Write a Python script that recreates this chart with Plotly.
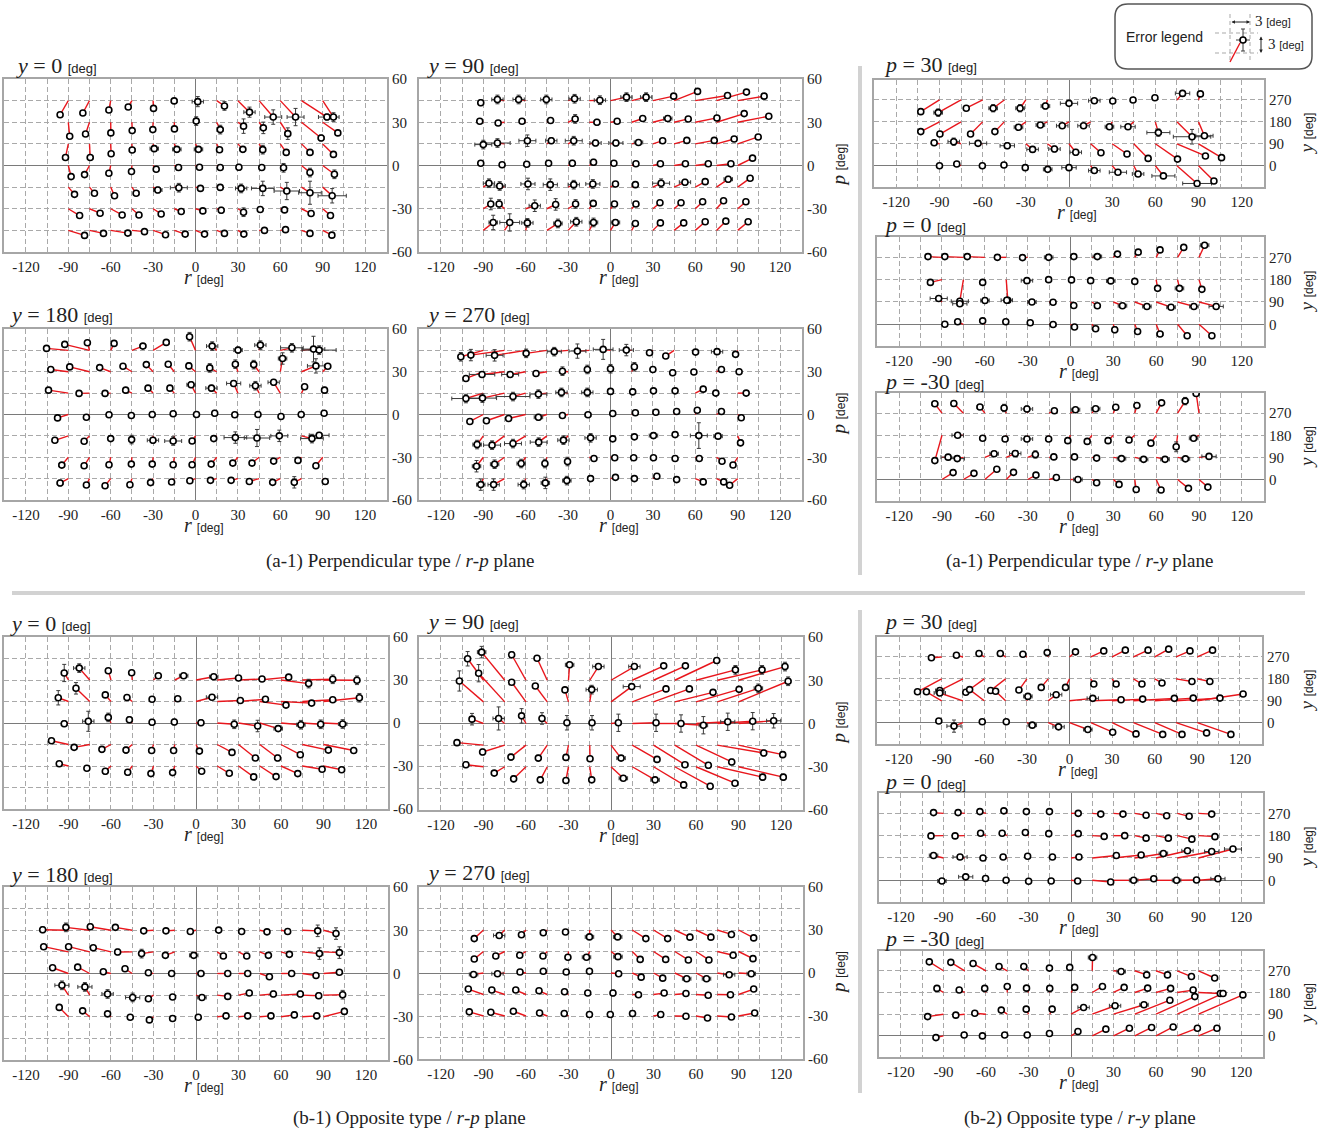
import plotly.graph_objects as go

W, H = 1324, 1133

# ---------------- target grids ----------------
R_GRID = [-90, -75, -60, -45, -30, -15, 0, 15, 30, 45, 60, 75, 90]
P_ROWS_A = [45, 30, 15, 0, -15, -30, -45]
P_ROWS_B = [30, 15, 0, -15, -30]
Y_ROWS = [270, 180, 90, 0]

R_TICKS = [-120, -105, -90, -75, -60, -45, -30, -15, 0, 15, 30, 45, 60, 75, 90, 105, 120]
P_TICKS = [-60, -45, -30, -15, 0, 15, 30, 45, 60]
Y_TICKS = [0, 90, 180, 270]

# ---------------- measured points (r, value[, target r]) per target row ----------------
A_Y0 = [
    [(-95.8, 35.2), (-79.7, 36.4), (-61.3, 38.5), (-47.6, 40.6), (-29.7, 39.6), (-15.1, 44.8), (1.6, 44.3), (20.5, 41.3), (38.2, 37.0), (55.0, 33.6), (70.8, 33.6), (93.0, 33.6), (97.6, 33.6)],
    [(-89.0, 20.3), (-77.8, 21.9), (-59.9, 22.6), (-44.8, 24.2), (-30.2, 24.9), (-14.9, 25.4), (0.5, 30.8), (17.5, 24.9), (34.0, 27.3), (48.0, 26.1), (65.3, 22.1), (88.9, 19.1), (100.7, 22.6)],
    [(-92.0, 5.6), (-74.5, 5.6), (-59.7, 8.2), (-44.8, 10.7), (-29.2, 11.7), (-13.2, 11.2), (2.1, 11.2), (17.0, 10.9), (33.5, 11.2), (47.6, 11.0), (64.2, 9.1), (81.0, 9.1), (97.6, 7.7)],
    [(-88.0, -7.7), (-78.5, -6.3), (-61.3, -5.4), (-45.3, -4.2), (-27.8, -2.6), (-12.0, -1.4), (2.8, -1.2), (17.5, -1.4), (30.7, -1.2), (46.9, -1.4), (62.3, -1.6), (81.0, -4.9), (98.3, -6.1)],
    [(-85.6, -20.0), (-71.5, -19.3), (-57.3, -21.0), (-42.0, -19.3), (-26.7, -17.0), (-11.8, -15.4), (3.5, -15.9), (17.5, -15.2), (32.3, -15.9), (47.6, -15.9), (64.6, -17.7), (81.0, -18.9), (96.7, -21.0)],
    [(-82.0, -34.7), (-67.5, -33.1), (-51.9, -34.3), (-40.0, -34.3), (-24.3, -33.6), (-10.1, -31.9), (5.2, -31.5), (18.2, -31.0), (34.0, -32.4), (45.8, -30.5), (63.0, -30.8), (81.8, -33.3), (95.5, -34.7)],
    [(-78.5, -48.5), (-65.1, -47.1), (-47.9, -46.9), (-36.1, -45.9), (-21.2, -48.0), (-7.3, -47.6), (6.4, -47.6), (20.5, -47.1), (34.2, -47.6), (48.8, -45.0), (63.7, -44.5), (81.0, -47.1), (96.5, -48.3)],
]
A_Y0_ERR = {(0, 5): (2, 1.5), (0, 6): (4, 3.5), (0, 7): (2, 3), (0, 8): (4, 3.5), (0, 9): (6, 5), (0, 10): (6, 6), (0, 11): (6, 2), (0, 12): (4, 3),
            (1, 6): (1, 3), (1, 7): (2, 3), (1, 8): (1, 5), (1, 9): (1, 4), (1, 10): (2, 4), (1, 11): (2, 2),
            (2, 0): (2, 1), (2, 1): (2, 1), (2, 3): (2, 0), (2, 4): (3, 2), (2, 5): (3, 2), (2, 6): (3, 2), (2, 7): (2, 0), (2, 8): (2, 2), (2, 9): (2, 3), (2, 10): (1, 2), (2, 11): (2, 2),
            (3, 5): (0, 2), (3, 8): (0, 2), (3, 10): (0, 3), (3, 11): (0, 3), (3, 12): (0, 3),
            (4, 0): (1, 1), (4, 3): (2, 0), (4, 4): (3, 2), (4, 5): (6, 3), (4, 8): (4, 3), (4, 9): (8, 5), (4, 10): (9, 6), (4, 11): (8, 8), (4, 12): (10, 5),
            (5, 7): (0, 2), (5, 8): (0, 3), (5, 12): (0, 2), (6, 0): (0, 2)}

A_Y90 = [
    [(-91.8, 43.5), (-80.0, 45.8), (-65.0, 45.8), (-45.4, 45.8), (-25.4, 46.3), (-7.5, 45.3), (11.3, 47.4), (25.2, 47.4), (44.7, 48.1), (61.6, 51.4), (82.8, 48.6), (96.2, 50.9), (108.7, 48.1)],
    [(-92.5, 30.7), (-79.5, 29.5), (-62.6, 30.7), (-42.4, 31.2), (-25.0, 32.3), (-9.6, 30.0), (4.7, 30.7), (22.8, 32.6), (40.5, 32.6), (55.0, 32.3), (75.3, 33.0), (94.6, 36.0), (112.0, 34.2)],
    [(-90.0, 14.5), (-80.0, 15.6), (-58.8, 17.2), (-41.9, 17.2), (-26.0, 17.2), (-10.6, 15.6), (3.8, 15.6), (19.8, 16.0), (36.9, 17.2), (54.0, 17.4), (73.4, 17.4), (87.5, 18.4), (104.5, 19.8)],
    [(-91.8, 1.6), (-76.7, 0.5), (-59.3, 0.9), (-43.8, 1.6), (-27.0, 1.6), (-12.0, 2.3), (2.4, 1.6), (18.0, 1.2), (35.3, 1.2), (53.0, 1.2), (69.2, 1.2), (85.2, 1.2), (100.5, 5.1)],
    [(-86.0, -12.3), (-78.4, -14.2), (-58.4, -12.8), (-42.6, -13.3), (-26.0, -13.3), (-12.5, -12.8), (3.5, -12.8), (17.6, -13.3), (35.8, -12.3), (52.7, -11.6), (67.0, -11.2), (83.3, -9.5), (98.8, -8.8)],
    [(-84.7, -26.7), (-78.8, -26.7), (-53.6, -27.9), (-38.8, -27.0), (-24.7, -26.7), (-12.2, -26.3), (2.8, -26.7), (18.0, -26.7), (35.0, -25.8), (49.9, -25.8), (65.2, -25.1), (80.0, -24.4), (95.8, -25.1)],
    [(-83.0, -39.5), (-71.3, -39.5), (-58.8, -39.8), (-37.2, -40.2), (-24.2, -39.0), (-12.0, -39.5), (3.5, -39.5), (17.6, -40.2), (35.3, -39.8), (51.8, -39.8), (67.0, -39.0), (81.6, -38.6), (97.4, -39.0)],
]
A_Y90_ERR = {(0, 0): (0, 2), (0, 1): (4, 3), (0, 2): (4, 3), (0, 3): (4, 3), (0, 4): (4, 3), (0, 5): (4, 3), (0, 6): (4, 3), (0, 7): (4, 3),
             (1, 4): (0, 3), (1, 5): (2, 2), (1, 8): (3, 2),
             (2, 0): (6, 3), (2, 1): (9, 3), (2, 2): (6, 4), (2, 3): (4, 2), (2, 4): (6, 3), (2, 5): (4, 2), (2, 6): (5, 2), (2, 7): (3, 1), (2, 8): (2, 0),
             (3, 4): (0, 2), (3, 5): (0, 2),
             (4, 0): (4, 3), (4, 1): (4, 3), (4, 2): (5, 4), (4, 3): (5, 4), (4, 4): (4, 3), (4, 5): (5, 3), (4, 8): (6, 3), (4, 9): (4, 2), (4, 11): (3, 2),
             (5, 0): (0, 4), (5, 1): (0, 3), (5, 2): (4, 4), (5, 3): (0, 4), (5, 4): (0, 3), (5, 5): (0, 2),
             (6, 0): (3, 5), (6, 1): (7, 6), (6, 2): (4, 3), (6, 3): (3, 3), (6, 4): (4, 3), (6, 5): (3, 3), (6, 6): (3, 2)}

A_Y180 = [
    [(-105.4, 46.4), (-92.5, 49.2), (-76.5, 50.4, -75), (-57.6, 49.9, -60), (-37.2, 48.0, -45), (-20.7, 50.6, -30), (-4.2, 54.6, 0), (11.8, 48.0, 15), (30.1, 45.2, 30), (45.9, 48.7, 45), (68.2, 46.8, 60), (83.5, 45.9, 75), (87.5, 45.2, 90)],
    [(-102.4, 31.6), (-89.0, 33.4), (-67.8, 32.9), (-51.3, 33.9), (-34.8, 35.0), (-19.3, 35.3), (-4.7, 34.1), (10.1, 32.7), (28.2, 35.3), (41.2, 35.0), (61.6, 39.3), (85.2, 34.1), (93.6, 33.9)],
    [(-104.0, 17.1), (-82.4, 14.8), (-64.0, 14.8), (-49.4, 17.1), (-33.6, 18.5), (-18.1, 18.5), (-3.1, 20.9), (11.3, 18.5), (27.0, 21.8), (42.4, 20.2), (55.3, 22.6), (77.2, 19.5), (91.3, 17.1)],
    [(-97.6, -2.4), (-77.2, -1.9), (-61.2, -0.2), (-45.4, -0.7), (-30.6, 0.0), (-15.8, 0.5), (0.7, 0.0), (13.6, 0.9), (27.8, -0.2), (44.2, 0.0), (60.5, -1.4), (74.8, 0.0), (91.0, 0.9)],
    [(-99.5, -18.1), (-78.8, -18.8), (-60.0, -16.9), (-45.2, -17.6), (-30.1, -18.1), (-15.8, -18.6), (-2.4, -18.6), (12.9, -16.9), (28.2, -16.2), (43.5, -16.5), (59.3, -15.0), (82.4, -16.9), (87.5, -14.6)],
    [(-94.6, -35.5), (-78.8, -36.0), (-61.2, -35.3), (-45.4, -34.8), (-30.6, -34.8), (-15.8, -35.3), (-2.4, -35.3), (11.1, -34.8), (26.4, -34.1), (40.0, -34.1), (55.3, -32.7), (72.5, -32.2), (85.2, -36.0)],
    [(-95.8, -48.1), (-77.2, -49.5), (-64.0, -50.0), (-46.4, -49.3), (-31.8, -47.8), (-16.9, -47.4), (-4.0, -46.5), (10.6, -46.2), (25.2, -46.2), (38.1, -47.0), (54.6, -47.6), (69.9, -47.6), (91.8, -47.0)],
]
A_Y180_ERR = {(0, 4): (2, 1), (0, 5): (2, 1), (0, 6): (2, 3), (0, 7): (4, 3), (0, 8): (3, 2), (0, 9): (4, 3), (0, 10): (8, 3), (0, 11): (8, 9), (0, 12): (12, 3),
              (1, 6): (0, 2), (1, 7): (0, 3), (1, 8): (2, 3), (1, 9): (2, 3), (1, 10): (3, 4), (1, 11): (6, 5), (1, 12): (2, 0),
              (2, 6): (3, 2), (2, 7): (4, 2), (2, 8): (5, 2), (2, 9): (4, 3), (2, 10): (4, 2), (2, 12): (2, 2),
              (3, 7): (0, 2), (3, 9): (0, 2), (3, 10): (0, 2),
              (4, 3): (0, 3), (4, 4): (4, 2), (4, 5): (6, 3), (4, 7): (0, 1), (4, 8): (8, 4), (4, 9): (9, 6), (4, 10): (6, 4), (4, 11): (8, 3), (4, 12): (7, 2),
              (5, 0): (2, 0), (6, 0): (2, 2), (6, 11): (0, 4)}

A_Y270 = [
    [(-105.9, 40.5), (-98.8, 41.7), (-82.0, 41.5), (-59.7, 42.9), (-39.8, 44.1), (-23.4, 44.5), (-5.2, 45.7), (11.2, 45.2), (27.6, 43.3), (39.1, 41.0), (60.2, 43.8), (75.4, 44.1), (88.5, 42.2)],
    [(-102.3, 25.3), (-90.9, 28.1), (-71.0, 28.1), (-52.7, 28.8), (-34.0, 30.4), (-16.4, 31.6), (0.0, 32.1), (16.9, 33.5), (30.0, 31.6), (44.0, 29.3), (59.0, 29.8), (78.5, 31.6), (91.0, 30.0)],
    [(-102.3, 11.2), (-90.6, 11.5), (-69.0, 12.6), (-51.0, 14.3), (-34.7, 15.5), (-16.4, 15.5), (0.0, 16.2), (15.7, 15.9), (30.4, 16.6), (45.7, 16.6), (65.6, 17.8), (74.5, 15.0), (96.0, 15.0)],
    [(-99.5, -4.9), (-87.8, -4.4), (-72.1, -2.8), (-51.0, -1.9), (-34.0, -0.7), (-15.9, -0.2), (1.6, 0.7), (17.6, 1.2), (32.1, 1.6), (46.8, 2.1), (61.4, 3.0), (78.5, 2.1), (92.5, -2.3)],
    [(-94.4, -21.1), (-83.8, -21.5), (-69.0, -20.4), (-50.8, -19.4), (-33.3, -18.0), (-14.1, -16.4), (1.6, -17.1), (16.9, -15.7), (30.4, -14.8), (45.7, -14.1), (62.5, -14.8), (76.1, -15.2), (92.0, -19.9)],
    [(-94.8, -36.3), (-82.0, -34.9), (-63.2, -34.4), (-46.4, -34.4), (-30.4, -33.0), (-11.7, -30.9), (3.0, -30.4), (16.4, -30.4), (30.4, -30.4), (45.7, -30.9), (62.8, -30.9), (78.9, -32.8), (86.7, -35.4)],
    [(-91.8, -49.2), (-82.7, -49.2), (-61.4, -49.2), (-46.1, -48.0), (-30.9, -46.4), (-14.1, -45.0), (3.5, -44.1), (16.9, -45.0), (32.8, -43.3), (46.8, -45.7), (65.6, -47.3), (80.1, -47.3), (84.3, -49.6)],
]
A_Y270_ERR = {(0, 0): (0, 3), (0, 1): (0, 4), (0, 2): (6, 4), (0, 3): (0, 3), (0, 4): (5, 3), (0, 5): (6, 5), (0, 6): (7, 7), (0, 7): (5, 4), (0, 8): (0, 1), (0, 11): (4, 2),
              (1, 1): (9, 0), (1, 2): (6, 0), (1, 3): (0, 2), (1, 4): (0, 3), (1, 5): (0, 3), (1, 6): (0, 3), (1, 7): (0, 3), (1, 9): (0, 2),
              (2, 0): (10, 3), (2, 1): (10, 3), (2, 2): (12, 3), (2, 3): (6, 3), (2, 4): (4, 3), (2, 5): (4, 3), (2, 6): (2, 2), (2, 7): (0, 2),
              (3, 3): (3, 2), (3, 4): (0, 1), (3, 5): (2, 0),
              (4, 0): (3, 3), (4, 1): (6, 3), (4, 2): (6, 3), (4, 3): (6, 3), (4, 4): (4, 3), (4, 5): (4, 3), (4, 8): (3, 2), (4, 10): (6, 9), (4, 11): (3, 0), (4, 12): (2, 2),
              (5, 0): (3, 4), (5, 1): (3, 3), (5, 2): (3, 3), (5, 3): (0, 3), (5, 4): (0, 3),
              (6, 0): (3, 4), (6, 1): (4, 4), (6, 2): (4, 3), (6, 3): (3, 4), (6, 4): (3, 3), (6, 5): (2, 2)}

A_P30 = [
    [(-103, 222), (-90.9, 218), (-71.4, 236), (-52.7, 236), (-34.0, 236), (-16.4, 245), (0.0, 256), (17.6, 267), (30.4, 266), (44.5, 270), (59.7, 279), (78.9, 297), (91.3, 295)],
    [(-103, 140), (-89.7, 130), (-68.4, 130), (-51.5, 140), (-35.1, 158), (-19.9, 167), (-4.7, 164), (10.1, 164), (28.1, 160), (41.0, 160), (62.1, 136), (85.5, 119), (94.1, 123)],
    [(-93.7, 94.5), (-80.1, 98.6), (-63.2, 91.8), (-42.9, 82), (-25.3, 67), (-10.1, 68.5), (4.7, 55), (22.2, 53.4), (40.3, 48), (55.0, 30), (75.4, 27), (94.8, 40), (106.0, 33)],
    [(-90, 0), (-78, 7), (-60.2, 0), (-45.2, 3), (-30.4, -8), (-14.8, -15), (0, -8), (17.6, -20), (34, -27), (48, -34), (65.6, -42), (89, -73), (100.7, -63)],
]
A_P30_ERR = {(0, 1): (3, 15), (0, 3): (3, 15), (0, 4): (3, 15), (0, 5): (3, 12), (0, 6): (6, 8), (0, 7): (4, 0), (0, 11): (5, 12),
             (1, 4): (3, 8), (1, 5): (3, 0), (1, 6): (4, 0), (1, 7): (4, 8), (1, 8): (3, 8), (1, 9): (5, 8), (1, 10): (8, 15), (1, 11): (13, 30), (1, 12): (6, 10),
             (2, 1): (4, 15), (2, 2): (6, 8), (2, 3): (5, 12), (2, 4): (4, 12), (2, 5): (4, 12), (2, 6): (4, 12), (2, 7): (0, 8), (2, 8): (0, 8),
             (3, 0): (0, 8), (3, 5): (3, 8), (3, 6): (5, 8), (3, 7): (4, 8), (3, 8): (6, 8), (3, 9): (4, 0), (3, 10): (8, 0), (3, 11): (10, 0)}

A_P0 = [
    [(-99.8, 273), (-88, 273), (-72.3, 273), (-51.2, 270), (-33.6, 269), (-15.3, 270), (2.3, 273), (18.8, 273), (32.9, 283), (47.4, 291), (62.7, 300), (79.3, 310), (93.9, 319)],
    [(-98.1, 169), (-77.5, 93), (-61.5, 169), (-43.9, 97), (-30.5, 176), (-15.3, 180), (0.7, 179), (14.1, 176), (28.2, 175), (45, 173), (61, 145), (76.3, 145), (92, 141)],
    [(-92.3, 104), (-77.5, 83), (-59.9, 96), (-44.6, 97), (-27, 90), (-12.2, 89), (2.3, 76), (18.8, 75), (36.4, 75), (53.5, 72), (70.4, 69), (86.4, 72), (102, 72)],
    [(-88, 0), (-79, 10), (-61.5, 14), (-45.3, 10), (-28.2, 6), (-12.2, -1), (2.8, -11), (17.6, -18), (31, -22), (47, -29), (62.7, -39), (81.7, -46), (99, -46)],
]
A_P0_ERR = {(0, 5): (3, 0), (0, 7): (3, 0), (0, 12): (3, 8),
            (1, 1): (6, 10), (1, 4): (4, 0), (1, 5): (2, 0), (1, 7): (0, 8), (1, 8): (3, 0), (1, 10): (0, 8), (1, 11): (3, 10),
            (2, 0): (6, 0), (2, 1): (5, 0), (2, 2): (3, 0), (2, 3): (4, 0), (2, 4): (3, 0), (2, 5): (0, 8), (2, 8): (3, 8), (2, 9): (3, 0), (2, 10): (3, 0), (2, 11): (3, 0), (2, 12): (5, 0),
            (3, 4): (0, 8), (3, 5): (2, 8), (3, 8): (0, 12), (3, 9): (0, 8), (3, 10): (2, 8)}

A_PM30 = [
    [(-95, 308), (-81.7, 309), (-63.4, 295), (-46.5, 291), (-30.5, 287), (-11.3, 280), (3.5, 284), (17.6, 288), (31.7, 294), (46.5, 301), (63.8, 312), (80.3, 319), (88, 350)],
    [(-95, 77), (-79, 180), (-61.5, 168), (-45.8, 165), (-30.5, 165), (-15.3, 165), (-1.9, 158), (11.7, 155), (26.3, 158), (41, 161), (56.3, 148), (74, 133), (86.2, 168)],
    [(-85.7, 91), (-79.3, 85), (-53.5, 105), (-38.7, 106), (-24.6, 102), (-11.7, 92), (2.8, 92), (18.3, 87), (35.7, 85), (51.2, 82), (66.2, 82), (80.5, 84), (97, 94)],
    [(-82.2, 28), (-67.6, 25), (-51.6, 42), (-39.9, 29), (-24.2, 18), (-9.9, 8), (5.2, 0), (18.3, -13), (34, -20), (46, -41), (63.4, -43), (82.6, -36), (96.2, -31)],
]
A_PM30_ERR = {(0, 0): (2, 10), (0, 1): (0, 12), (0, 2): (2, 10), (0, 3): (0, 15), (0, 4): (4, 12), (0, 6): (3, 0), (0, 7): (3, 0), (0, 11): (0, 15), (0, 12): (2, 0),
              (1, 1): (4, 0), (1, 2): (0, 8), (1, 4): (4, 8), (1, 5): (0, 10), (1, 11): (0, 20), (1, 12): (3, 0),
              (2, 0): (5, 0), (2, 1): (5, 12), (2, 2): (3, 10), (2, 3): (4, 10), (2, 4): (0, 15), (2, 5): (0, 10), (2, 7): (0, 8), (2, 8): (3, 0), (2, 9): (3, 0), (2, 10): (3, 0), (2, 11): (3, 0), (2, 12): (5, 0),
              (3, 0): (0, 10), (3, 4): (0, 10), (3, 6): (3, 0)}

B_Y0 = [
    [(-93, 34.9), (-82.4, 38.3), (-61.9, 36.5), (-45.4, 35.1), (-26.6, 33), (-8.7, 33), (12.5, 32.3), (30, 31.4), (46.6, 30.7), (65.4, 32), (79.5, 27.5), (96.5, 30.5), (113.6, 29.8)],
    [(-97.2, 17.6), (-84.7, 24.2), (-64, 19.6), (-48.7, 17.8), (-31, 16.6), (-12.9, 16.9), (11.3, 18), (31.3, 15.7), (49, 16.6), (63.5, 12.5), (81.6, 13.9), (96.5, 16.2), (115.3, 17.6)],
    [(-93, -0.5), (-76, 1.2), (-61.9, 3.9), (-47, 2.3), (-31, 0.5), (-15.3, 0.7), (3.5, 0.2), (27, -0.9), (43.5, -2.1), (58, -3.9), (74, -1.2), (88, -0.9), (103.5, -0.7)],
    [(-102, -12.4), (-86, -17), (-66.4, -18.4), (-49.4, -18.9), (-31.3, -19.2), (-15.8, -19.2), (2.4, -19.6), (25.4, -20.5), (41.9, -24.4), (57.6, -24.4), (73.6, -22.1), (93.4, -18.9), (111.3, -19.2)],
    [(-96.5, -28.4), (-77, -31.6), (-64, -33.7), (-48.2, -34.4), (-31.8, -35.3), (-16.5, -34.6), (4, -33.7), (23.5, -35.1), (40.7, -37.6), (56.5, -37.4), (71.8, -35.3), (89, -32.3), (102.8, -32.6)],
]
B_Y0_ERR = {(0, 0): (0, 6), (0, 1): (4, 3), (0, 5): (3, 0), (0, 6): (3, 0), (0, 10): (0, 3), (0, 11): (0, 3), (0, 12): (0, 3),
            (1, 0): (0, 5), (1, 1): (0, 4), (1, 5): (2, 0), (1, 6): (4, 0), (1, 12): (0, 3),
            (2, 0): (2, 2), (2, 1): (4, 7), (2, 2): (0, 3), (2, 3): (0, 2), (2, 4): (0, 2), (2, 5): (0, 2), (2, 6): (0, 2), (2, 7): (0, 3), (2, 8): (0, 4), (2, 9): (3, 2), (2, 10): (3, 3), (2, 11): (0, 3), (2, 12): (3, 3),
            (3, 1): (2, 0), (3, 2): (0, 2), (3, 3): (0, 2), (3, 6): (2, 0), (3, 9): (0, 2),
            (4, 2): (0, 2), (4, 3): (0, 2), (4, 9): (0, 2)}

B_Y90 = [
    [(-101.2, 44.9), (-91.3, 49.5), (-70.1, 47.7), (-52.2, 45.3), (-29.2, 40.7), (-8.9, 39.5), (16.5, 39.5), (37.2, 40), (52.5, 40), (74.6, 43.7), (87.8, 37.2), (106.6, 37.2), (122.8, 39.5)],
    [(-107, 29.5), (-93.4, 34.9), (-70.1, 28.6), (-53.4, 26), (-32.5, 23.3), (-13.6, 23.5), (14.6, 25.6), (38.8, 24), (55.3, 24), (72, 21.6), (90.4, 23.7), (104, 24.4), (125, 29.3)],
    [(-98.1, 3), (-79.3, 3.5), (-63.1, 5.3), (-48.7, 3.5), (-31.1, 0.5), (-13.4, 0.5), (5.2, 0.5), (31.8, 0.5), (49.4, 0), (65.2, -1.2), (82.4, 1.2), (100, 1.6), (114.8, 1.9)],
    [(-108.7, -13.3), (-90.6, -19.8), (-70.6, -23.3), (-51.3, -24), (-31.8, -23.5), (-14.8, -24.4), (7.1, -24), (32.5, -24.9), (52.2, -28.6), (68.7, -29), (85.2, -26.7), (107.8, -20.5), (121.2, -21.6)],
    [(-102.4, -28.6), (-82.4, -34.4), (-68.7, -38.4), (-49.9, -39.1), (-31.8, -39.5), (-13.6, -39.1), (8.7, -38), (31.1, -39.1), (51.3, -42.6), (70, -43.5), (87.5, -41.4), (107, -37.2), (121.6, -37.2)],
]
B_Y90_ERR = {(0, 0): (0, 5), (0, 1): (3, 4), (0, 2): (0, 2), (0, 4): (3, 0), (0, 5): (4, 0), (0, 6): (4, 0), (0, 9): (0, 2), (0, 10): (0, 3), (0, 11): (0, 3), (0, 12): (0, 3),
             (1, 0): (0, 7), (1, 1): (0, 6), (1, 5): (4, 3), (1, 6): (6, 0), (1, 11): (3, 3), (1, 12): (0, 3),
             (2, 0): (0, 4), (2, 1): (4, 8), (2, 2): (0, 5), (2, 3): (0, 4), (2, 4): (0, 5), (2, 5): (0, 5), (2, 6): (0, 6), (2, 7): (0, 6), (2, 8): (0, 6), (2, 9): (3, 6), (2, 10): (5, 6), (2, 11): (0, 6), (2, 12): (5, 5),
             (3, 0): (0, 2), (3, 1): (0, 2), (3, 2): (0, 2), (3, 3): (0, 2), (3, 4): (0, 2), (3, 6): (3, 0), (3, 8): (2, 0), (3, 9): (0, 2), (3, 10): (0, 2), (3, 11): (0, 2), (3, 12): (0, 2),
             (4, 0): (0, 2), (4, 2): (0, 2), (4, 3): (0, 2), (4, 6): (3, 0), (4, 7): (3, 0), (4, 8): (0, 2), (4, 9): (0, 2), (4, 11): (0, 2), (4, 12): (0, 2)}

B_Y180 = [
    [(-108.2, 30.3), (-91.8, 32.0), (-74.6, 32.4), (-56.9, 32.0), (-36.9, 29.6), (-21.2, 29.6), (-4.0, 29.1), (16.0, 30.1), (32.2, 29.1), (50.1, 28.9), (64.7, 29.1), (85.9, 29.6), (98.8, 27.7)],
    [(-107.5, 18.6), (-89.9, 18.6), (-72.5, 17.9), (-55.3, 14.9), (-38.4, 13.8), (-21.6, 12.6), (-1.6, 12.6), (19.3, 12.1), (35.8, 12.1), (51.1, 12.6), (65.9, 13.3), (87.1, 13.8), (101.2, 14.5)],
    [(-101.2, 4.0), (-83.5, 4.4), (-65.4, 1.2), (-50.1, 3.3), (-33.6, 0.5), (-17.2, 0.0), (3.5, 0.0), (22.4, 0.0), (36.5, 0.0), (51.8, -2.3), (67.5, 0.0), (84.7, -1.4), (101.2, 0.9)],
    [(-94.6, -8.2), (-78.4, -9.3), (-62.4, -14.2), (-44.7, -16.6), (-33.6, -17.5), (-16.5, -16.3), (4.2, -16.6), (22.4, -15.9), (37.6, -13.5), (54.6, -14.2), (73.6, -14.2), (86.6, -15.4), (103.5, -14.7)],
    [(-96.5, -23.5), (-80.0, -25.9), (-62.4, -28.0), (-46.4, -30.3), (-32.9, -32.2), (-16.5, -31.2), (1.6, -30.3), (21.2, -29.4), (36.5, -29.4), (52.9, -29.4), (69.4, -28.7), (85.2, -29.4), (104.7, -26.3)],
]
B_Y180_ERR = {(0, 0): (0, 2), (0, 1): (0, 3), (0, 2): (0, 2), (0, 11): (0, 4), (0, 12): (0, 4),
              (1, 3): (0, 2), (1, 4): (0, 3), (1, 6): (3, 0), (1, 7): (2, 0), (1, 11): (0, 4), (1, 12): (0, 4),
              (2, 6): (2, 0),
              (3, 0): (5, 3), (3, 1): (5, 3), (3, 2): (4, 3), (3, 3): (5, 3), (3, 6): (3, 0), (3, 9): (0, 2), (3, 10): (2, 2), (3, 11): (0, 2), (3, 12): (0, 3),
              (4, 10): (0, 2), (4, 12): (0, 2)}

B_Y270 = [
    [(-96.5, 24.0), (-78.9, 26.2), (-63.2, 26.7), (-47.8, 28.1), (-32.1, 28.6), (-15.2, 25.2), (4.7, 25.2), (24.6, 24.0), (40.0, 24.0), (55.7, 25.0), (70.5, 25.0), (85.0, 26.9), (100.7, 24.5)],
    [(-96.5, 9.8), (-81.3, 11.9), (-64.4, 12.4), (-48.0, 11.9), (-30.4, 11.0), (-17.3, 11.0), (4.9, 11.4), (20.6, 9.5), (38.6, 9.5), (54.6, 9.1), (69.1, 9.1), (86.2, 12.4), (100.2, 10.0)],
    [(-97.0, -1.0), (-80.1, -0.5), (-64.2, 0.7), (-47.8, 1.2), (-31.6, 0.7), (-15.2, 1.2), (5.4, -0.5), (21.3, -2.9), (36.5, -3.6), (53.4, -4.0), (67.4, -4.0), (83.4, -1.2), (99.0, -0.5)],
    [(-100.7, -11.2), (-84.1, -11.9), (-67.2, -11.9), (-50.8, -12.4), (-32.8, -13.1), (-16.4, -14.0), (1.4, -14.0), (19.4, -15.2), (37.5, -14.0), (52.9, -14.3), (68.6, -15.5), (84.3, -15.2), (100.7, -11.2)],
    [(-100.0, -27.1), (-84.8, -27.4), (-68.9, -26.7), (-50.4, -27.9), (-33.0, -28.3), (-15.2, -29.0), (-0.5, -29.0), (15.2, -28.3), (35.1, -29.0), (52.9, -30.2), (68.1, -31.4), (85.0, -30.7), (101.4, -27.9)],
]
B_Y270_ERR = {(0, 1): (4, 0), (0, 5): (3, 0), (0, 6): (3, 0), (1, 5): (3, 0), (1, 6): (3, 0),
              (2, 0): (3, 0), (2, 1): (4, 0), (2, 9): (3, 0), (2, 10): (3, 0), (2, 11): (4, 0), (2, 12): (3, 0),
              (3, 6): (0, 2), (4, 7): (0, 2), (4, 8): (0, 2)}

B_P30 = [
    [(-97.2, 267), (-79.6, 277), (-63.7, 284), (-48.7, 284), (-32.8, 281), (-15.7, 288), (4.2, 291), (24.1, 295), (39.3, 298), (55.3, 298), (69.8, 302), (84.8, 295), (100.7, 298)],
    [(-107, 127), (-91.3, 132), (-73, 125), (-55.5, 132), (-35.6, 134), (-19.9, 145), (-2.8, 145), (17.1, 159), (32.8, 159), (51, 159), (65.1, 163), (86.2, 169), (98.8, 169)],
    [(-100.7, 127), (-91.3, 122), (-70.3, 136), (-52, 129), (-29.3, 108), (-9.4, 115), (16.4, 100), (36.3, 94), (51.5, 97), (73.8, 100), (87.1, 101), (105.9, 101), (122.2, 118)],
    [(-92, 7), (-81.3, -14), (-61.4, 4), (-44.5, 4), (-26.2, -10), (-7.7, -17), (12.9, -28), (30.4, -39), (46.8, -46), (65.6, -48), (79.2, -48), (96.5, -42), (113.6, -48)],
]
B_P30_ERR = {(0, 4): (0, 8), (1, 1): (3, 0), (2, 1): (4, 0), (2, 4): (3, 0), (2, 5): (4, 0), (2, 6): (4, 0),
             (3, 1): (5, 25), (3, 4): (3, 0), (3, 5): (4, 0), (3, 6): (3, 0)}

B_P0 = [
    [(-97, 273), (-79.7, 273), (-64.3, 277), (-47.4, 280), (-31.5, 277), (-15.2, 277), (5.1, 270), (21, 267), (36.7, 267), (53, 262), (67.5, 260), (83.4, 258), (99.3, 267)],
    [(-98.8, 179), (-81.8, 179), (-63.8, 190), (-48.6, 190), (-32.2, 193), (-15.7, 188), (5.1, 188), (23.4, 177), (37.9, 180), (53, 170), (68.7, 170), (85.3, 166), (101.6, 176)],
    [(-97, 100), (-78.3, 94), (-62.1, 90), (-47.9, 94), (-30.6, 97), (-13.1, 94), (5.6, 94), (32, 100), (49.5, 102), (65.2, 108), (82.2, 119), (99.3, 116), (114.3, 126)],
    [(-91.1, -3), (-74.3, 14), (-60.3, 7), (-45.8, 0), (-29.9, -4), (-14, -3), (4.7, -3), (28, -7), (44.2, 0), (58.4, 6), (74.5, 0), (88.6, 1), (103.7, 6)],
]
B_P0_ERR = {(2, 0): (3, 0), (2, 1): (5, 0), (2, 9): (3, 0), (2, 10): (4, 0), (2, 11): (5, 0), (2, 12): (6, 0),
            (3, 0): (3, 0), (3, 1): (5, 0), (3, 8): (3, 0), (3, 10): (3, 0), (3, 12): (5, 0)}

B_PM30 = [
    [(-100, 307), (-84.8, 305), (-69.1, 300), (-50.8, 288), (-33.3, 288), (-15.2, 281), (-0.9, 284), (15.2, 325), (35.4, 267), (53.4, 253), (68.1, 253), (85, 246), (101.4, 240)],
    [(-94.6, 197), (-78.9, 190), (-60.9, 197), (-45, 205), (-31.4, 198), (-15, 197), (2.6, 201), (22.2, 205), (37.5, 201), (54.1, 198), (70.3, 197), (86.2, 190), (105.4, 176)],
    [(-101.2, 80), (-81.3, 86), (-67.9, 94), (-49.2, 107), (-31.6, 111), (-13.3, 111), (8.9, 118), (31.1, 125), (51.5, 129), (69.8, 148), (87.4, 163), (107.3, 176), (121.3, 170)],
    [(-95.3, -7), (-75.4, 4), (-62.5, 0), (-46.8, 4), (-30.9, 4), (-15.2, 10), (4.9, 18), (24.6, 28), (41.2, 32), (56.9, 35), (72.1, 37), (89.2, 32), (103, 32)],
]
B_PM30_ERR = {(0, 7): (3, 0), (0, 8): (3, 0), (1, 6): (2, 0), (2, 6): (4, 0), (2, 7): (4, 0), (2, 8): (3, 0)}

# ---------------- panel layout (pixel boxes: x0, x1, ytop, ybottom) ----------------
PANELS = [
    dict(data=A_Y0, err=A_Y0_ERR, rows=P_ROWS_A, kind="rp", box=(4, 387, 79, 252), var="y", val="0", tpos=(14, 66), vlabel=False),
    dict(data=A_Y90, err=A_Y90_ERR, rows=P_ROWS_A, kind="rp", box=(419, 802, 79, 252), var="y", val="90", tpos=(425, 66), vlabel=True),
    dict(data=A_Y180, err=A_Y180_ERR, rows=P_ROWS_A, kind="rp", box=(4, 387, 329, 500), var="y", val="180", tpos=(8, 314), vlabel=False),
    dict(data=A_Y270, err=A_Y270_ERR, rows=P_ROWS_A, kind="rp", box=(419, 802, 329, 500), var="y", val="270", tpos=(425, 314), vlabel=True),
    dict(data=A_P30, err=A_P30_ERR, rows=Y_ROWS, kind="ry", box=(874, 1264, 80, 187), var="p", val="30", tpos=(882, 65), vlabel=True),
    dict(data=A_P0, err=A_P0_ERR, rows=Y_ROWS, kind="ry", box=(877, 1264, 237, 346), var="p", val="0", tpos=(882, 225), vlabel=True),
    dict(data=A_PM30, err=A_PM30_ERR, rows=Y_ROWS, kind="ry", box=(877, 1264, 393, 501), var="p", val="-30", tpos=(882, 381), vlabel=True),
    dict(data=B_Y0, err=B_Y0_ERR, rows=P_ROWS_B, kind="rp", box=(4, 388, 637, 809), var="y", val="0", tpos=(8, 623), vlabel=False),
    dict(data=B_Y90, err=B_Y90_ERR, rows=P_ROWS_B, kind="rp", box=(419, 803, 637, 810), var="y", val="90", tpos=(425, 621), vlabel=True),
    dict(data=B_Y180, err=B_Y180_ERR, rows=P_ROWS_B, kind="rp", box=(4, 388, 887, 1060), var="y", val="180", tpos=(8, 874), vlabel=False),
    dict(data=B_Y270, err=B_Y270_ERR, rows=P_ROWS_B, kind="rp", box=(419, 803, 887, 1059), var="y", val="270", tpos=(425, 872), vlabel=True),
    dict(data=B_P30, err=B_P30_ERR, rows=Y_ROWS, kind="ry", box=(877, 1262, 637, 744), var="p", val="30", tpos=(882, 621), vlabel=True),
    dict(data=B_P0, err=B_P0_ERR, rows=Y_ROWS, kind="ry", box=(879, 1263, 793, 902), var="p", val="0", tpos=(882, 781), vlabel=True),
    dict(data=B_PM30, err=B_PM30_ERR, rows=Y_ROWS, kind="ry", box=(879, 1263, 951, 1057), var="p", val="-30", tpos=(882, 938), vlabel=True),
]

SERIF = "Liberation Serif"
SANS = "Liberation Sans"
RED = "#e8161c"
GRID = "#a9a9a9"
FRAME = "#a6a6a6"


def fx(x):
    return x / W


def fy(y):
    return 1 - y / H


fig = go.Figure()
layout = dict(width=W, height=H, margin=dict(l=0, r=0, t=0, b=0, autoexpand=False),
              paper_bgcolor="white", plot_bgcolor="white", showlegend=False)
annotations = []
shapes = []

for i, pn in enumerate(PANELS):
    sfx = "" if i == 0 else str(i + 1)
    xa, ya = "x" + sfx, "y" + sfx
    x0, x1, yt, yb = pn["box"]
    lx, ly, mx, my = [], [], [], []
    exx, exy, exv, eyx, eyy, eyv = [], [], [], [], [], []
    for ri, row in enumerate(pn["data"]):
        tv = pn["rows"][ri]
        for ci, pt in enumerate(row):
            rm, vm = pt[0], pt[1]
            rt = pt[2] if len(pt) > 2 else R_GRID[ci]
            lx += [rt, rm, None]
            ly += [tv, vm, None]
            mx.append(rm)
            my.append(vm)
            e = pn["err"].get((ri, ci))
            if e:
                if e[0] > 0:
                    exx.append(rm); exy.append(vm); exv.append(e[0])
                if e[1] > 0:
                    eyx.append(rm); eyy.append(vm); eyv.append(e[1])
    fig.add_trace(go.Scatter(x=lx, y=ly, mode="lines", line=dict(color=RED, width=1.4),
                             xaxis=xa, yaxis=ya, hoverinfo="skip"))
    if exx:
        fig.add_trace(go.Scatter(x=exx, y=exy, mode="markers", marker=dict(size=1, opacity=0),
                                 error_x=dict(type="data", array=exv, color="#3a3a3a", thickness=1, width=2),
                                 xaxis=xa, yaxis=ya, hoverinfo="skip"))
    if eyx:
        fig.add_trace(go.Scatter(x=eyx, y=eyy, mode="markers", marker=dict(size=1, opacity=0),
                                 error_y=dict(type="data", array=eyv, color="#3a3a3a", thickness=1, width=2),
                                 xaxis=xa, yaxis=ya, hoverinfo="skip"))
    fig.add_trace(go.Scatter(x=mx, y=my, mode="markers",
                             marker=dict(symbol="circle", size=6, color="white", line=dict(color="black", width=1.6)),
                             xaxis=xa, yaxis=ya, hoverinfo="skip"))

    common = dict(showgrid=True, gridcolor=GRID, griddash="5px,3px", gridwidth=1,
                  zeroline=True, zerolinecolor="#7a7a7a", zerolinewidth=1,
                  showline=True, mirror=True, linecolor=FRAME, linewidth=2, ticks="",
                  tickfont=dict(family=SERIF, size=15, color="#222"), fixedrange=True, automargin=False)
    layout["xaxis" + sfx] = dict(common, domain=[fx(x0), fx(x1)], range=[-135.5, 135.5],
                                 tickmode="array", tickvals=R_TICKS,
                                 ticktext=[str(v) if v % 30 == 0 else "" for v in R_TICKS], anchor=ya)
    if pn["kind"] == "rp":
        yax = dict(range=[-60, 60], tickvals=P_TICKS, ticktext=[str(v) if v % 30 == 0 else "" for v in P_TICKS])
    else:
        yax = dict(range=[-87.5, 352], tickvals=Y_TICKS, ticktext=[str(v) for v in Y_TICKS])
    layout["yaxis" + sfx] = dict(common, domain=[fy(yb), fy(yt)], tickmode="array", side="right",
                                 anchor=xa, **yax)

    # panel title
    annotations.append(dict(
        x=fx(pn["tpos"][0]), y=fy(pn["tpos"][1]), xref="paper", yref="paper",
        xanchor="left", yanchor="middle", showarrow=False,
        text=f"<i>{pn['var']}</i> = {pn['val']} <span style='font-family:{SANS};font-size:13px'>[deg]</span>",
        font=dict(family=SERIF, size=22, color="#222")))
    # r axis label
    zero_px = x0 + (x1 - x0) * 135.5 / 271.0
    annotations.append(dict(
        x=fx(zero_px + 8), y=fy(yb + 25), xref="paper", yref="paper",
        xanchor="center", yanchor="middle", showarrow=False,
        text=f"<i>r</i> <span style='font-family:{SANS};font-size:12px'>[deg]</span>",
        font=dict(family=SERIF, size=20, color="#222")))
    if pn["vlabel"]:
        vx = 838 if pn["kind"] == "rp" else 1306
        vname = "p" if pn["kind"] == "rp" else "y"
        annotations.append(dict(
            x=fx(vx), y=fy((yt + yb) / 2), xref="paper", yref="paper",
            xanchor="center", yanchor="middle", showarrow=False, textangle=-90,
            text=f"<i>{vname}</i> <span style='font-family:{SANS};font-size:12px'>[deg]</span>",
            font=dict(family=SERIF, size=19, color="#222")))

# captions
CAPTIONS = [
    ("(a-1) Perpendicular type / <i>r</i>-<i>p</i> plane", 400, 561),
    ("(a-1) Perpendicular type / <i>r</i>-<i>y</i> plane", 1080, 561),
    ("(b-1) Opposite type / <i>r</i>-<i>p</i> plane", 410, 1118),
    ("(b-2) Opposite type / <i>r</i>-<i>y</i> plane", 1080, 1118),
]
for txt, cx, cy in CAPTIONS:
    annotations.append(dict(x=fx(cx), y=fy(cy), xref="paper", yref="paper", xanchor="center",
                            yanchor="middle", showarrow=False, text=txt,
                            font=dict(family=SERIF, size=19, color="#222")))

# separators
SEP = "#d2d2d2"
shapes.append(dict(type="line", xref="paper", yref="paper", x0=fx(860), x1=fx(860), y0=fy(66), y1=fy(575),
                   line=dict(color=SEP, width=4)))
shapes.append(dict(type="line", xref="paper", yref="paper", x0=fx(860), x1=fx(860), y0=fy(610), y1=fy(1093),
                   line=dict(color=SEP, width=4)))
shapes.append(dict(type="line", xref="paper", yref="paper", x0=fx(12), x1=fx(1305), y0=fy(593), y1=fy(593),
                   line=dict(color=SEP, width=4)))

# error legend box (rounded rectangle)
bx0, bx1, by0, by1, rad = 1115, 1312, 4, 69, 13
path = (f"M {fx(bx0 + rad)} {fy(by0)} L {fx(bx1 - rad)} {fy(by0)} "
        f"Q {fx(bx1)} {fy(by0)} {fx(bx1)} {fy(by0 + rad)} L {fx(bx1)} {fy(by1 - rad)} "
        f"Q {fx(bx1)} {fy(by1)} {fx(bx1 - rad)} {fy(by1)} L {fx(bx0 + rad)} {fy(by1)} "
        f"Q {fx(bx0)} {fy(by1)} {fx(bx0)} {fy(by1 - rad)} L {fx(bx0)} {fy(by0 + rad)} "
        f"Q {fx(bx0)} {fy(by0)} {fx(bx0 + rad)} {fy(by0)} Z")
shapes.append(dict(type="path", xref="paper", yref="paper", path=path, line=dict(color="#555", width=1.5)))
annotations.append(dict(x=fx(1164), y=fy(37), xref="paper", yref="paper", xanchor="center", yanchor="middle",
                        showarrow=False, text="Error legend", font=dict(family=SANS, size=14, color="#222")))
# mini grid inside legend
for yy in (33, 53):
    shapes.append(dict(type="line", xref="paper", yref="paper", x0=fx(1215), x1=fx(1258), y0=fy(yy), y1=fy(yy),
                       line=dict(color=GRID, width=1, dash="4px,3px")))
for xx in (1230, 1250):
    shapes.append(dict(type="line", xref="paper", yref="paper", x0=fx(xx), x1=fx(xx), y0=fy(14), y1=fy(63),
                       line=dict(color=GRID, width=1, dash="4px,3px")))
shapes.append(dict(type="line", xref="paper", yref="paper", x0=fx(1230), x1=fx(1240), y0=fy(62), y1=fy(43),
                   line=dict(color=RED, width=1.4)))
for (xa0, ya0, xa1, ya1) in [(1243, 29, 1243, 51), (1236, 40, 1250, 40), (1241, 29, 1245, 29), (1241, 51, 1245, 51)]:
    shapes.append(dict(type="line", xref="paper", yref="paper", x0=fx(xa0), x1=fx(xa1), y0=fy(ya0), y1=fy(ya1),
                       line=dict(color="#3a3a3a", width=1)))
shapes.append(dict(type="circle", xref="paper", yref="paper", x0=fx(1240), x1=fx(1246), y0=fy(43), y1=fy(37),
                   line=dict(color="black", width=1.6), fillcolor="white"))
# arrows (double-headed)
annotations.append(dict(x=fx(1250), y=fy(22), ax=-20, ay=0, xref="paper", yref="paper",
                        text="", showarrow=True, arrowhead=2, arrowside="end+start",
                        arrowsize=0.7, arrowwidth=1, arrowcolor="#222"))
annotations.append(dict(x=fx(1261), y=fy(53), ax=0, ay=-18, xref="paper", yref="paper",
                        text="", showarrow=True, arrowhead=2, arrowside="end+start",
                        arrowsize=0.7, arrowwidth=1, arrowcolor="#222"))
annotations.append(dict(x=fx(1253), y=fy(21), xref="paper", yref="paper", xanchor="left", yanchor="middle",
                        showarrow=False, font=dict(family=SERIF, size=15, color="#222"),
                        text=f"3 <span style='font-family:{SANS};font-size:11px'>[deg]</span>"))
annotations.append(dict(x=fx(1266), y=fy(44), xref="paper", yref="paper", xanchor="left", yanchor="middle",
                        showarrow=False, font=dict(family=SERIF, size=15, color="#222"),
                        text=f"3 <span style='font-family:{SANS};font-size:11px'>[deg]</span>"))

layout["annotations"] = annotations
layout["shapes"] = shapes
fig.update_layout(**layout)
fig.write_html("out.html", config={"displayModeBar": False, "staticPlot": True},
               post_script="document.body.style.margin='0';document.body.style.padding='0';"
                           "document.body.style.overflow='hidden';"
                           "document.documentElement.style.overflow='hidden';")
